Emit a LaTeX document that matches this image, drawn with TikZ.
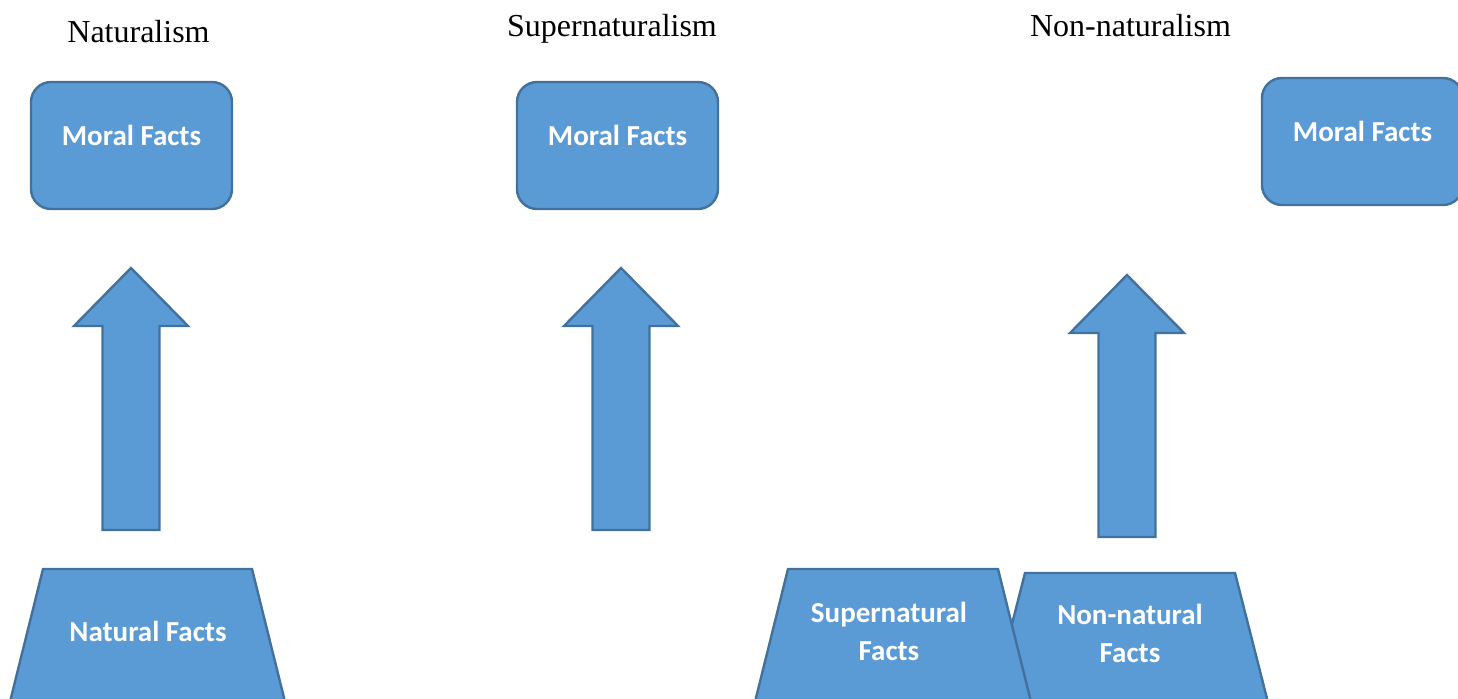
\documentclass[tikz,border=0pt]{standalone}
\usepackage{fontspec}
\setmainfont{Liberation Serif}
\newfontfamily\calibri{Carlito}
\definecolor{officeblue}{RGB}{91,155,213}
\definecolor{officeline}{RGB}{65,113,156}
\begin{document}
\begin{tikzpicture}[x=0.5pt,y=-0.5pt,
		blk/.style={fill=officeblue,draw=officeline,line width=1.2pt,line join=miter},
		moral/.style={blk,rounded corners=10pt,minimum width=100.5pt,minimum height=63.5pt,inner sep=0pt,text=white,font=\calibri\bfseries\fontsize{14.5}{17}\selectfont,text height=9.5pt,text depth=10pt},
		facts/.style={text=white,font=\calibri\bfseries\fontsize{14.5}{19}\selectfont,align=center},
		title/.style={anchor=base,font=\fontsize{16}{19}\selectfont}]
		\useasboundingbox (0,0) rectangle (1458,698);
		\node[title] (tn) at (138.5,42) {Naturalism};
		\node[title] (ts) at (612,36) {Supernaturalism};
		\node[title] (to) at (1130.5,36) {Non-naturalism};
		\node[moral] (mfn) at (131.5,145.5) {Moral Facts};
		\node[moral] (mfs) at (617.5,145.5) {Moral Facts};
		\node[moral] (mfo) at (1362.5,141.5) {Moral Facts};
		\foreach \ax/\ay in {131/268, 621/268, 1127/275}
			\draw[blk] (\ax,\ay) -- ++(57,58) -- ++(-28.5,0) -- ++(0,204) -- ++(-57,0) -- ++(0,-204) -- ++(-28.5,0) -- cycle;
		\draw[blk] (43,569) -- (252,569) -- (292,730) -- (3,730) -- cycle;
		\draw[blk] (1025,573) -- (1235,573) -- (1275,730) -- (985,730) -- cycle;
		\draw[blk] (788,569) -- (998,569) -- (1038,730) -- (748,730) -- cycle;
		\node[facts] (nf) at (148,631) {Natural Facts};
		\node[facts] (sf) at (889,631) {Supernatural\\Facts};
		\node[facts] (of) at (1130,633) {Non-natural\\Facts};
\end{tikzpicture}
\end{document}
